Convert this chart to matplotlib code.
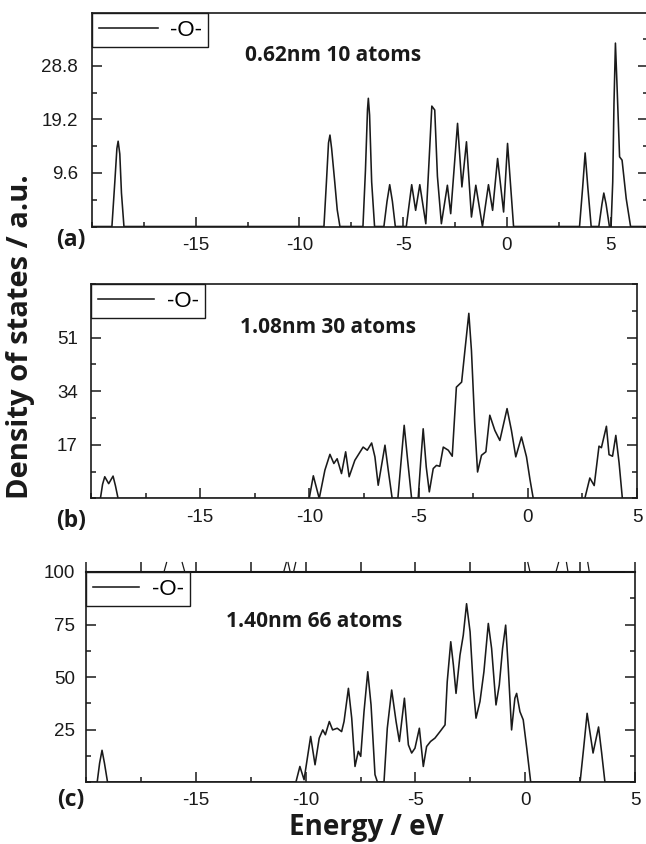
import matplotlib
matplotlib.use('Agg')
import matplotlib.pyplot as plt
from matplotlib.ticker import MultipleLocator, FixedLocator, NullFormatter

# ---- data (energy in eV, DOS in a.u.) ----
energy_a = [-20, -19.04, -18.90, -18.80, -18.74, -18.66, -18.58, -18.46,
            -8.82, -8.70, -8.60, -8.53, -8.45, -8.30, -8.18, -8.05,
            -6.94, -6.82, -6.72, -6.68, -6.62, -6.52, -6.38,
            -5.93, -5.78, -5.65, -5.52, -5.38,
            -4.85, -4.59, -4.40, -4.20, -3.91, -3.75, -3.62, -3.48, -3.35, -3.16,
            -2.87, -2.71, -2.38, -2.17, -1.95, -1.71, -1.50, -1.18, -0.89, -0.69,
            -0.45, -0.16, 0.03, 0.32,
            3.50, 3.65, 3.77, 3.90, 4.06,
            4.43, 4.58, 4.67, 4.78, 4.94,
            5.02, 5.10, 5.16, 5.23, 5.30, 5.43, 5.55, 5.75, 5.96, 6.8]
dos_a = [0, 0, 8, 14, 15.3, 13, 6, 0,
         0, 8, 15, 16.4, 14, 8, 3, 0,
         0, 10, 21, 23, 20, 8, 0,
         0, 4.5, 7.5, 4.5, 0,
         0, 7.5, 2.9, 7.5, 0.5, 12, 21.6, 20.9, 9, 0.5,
         7.4, 2.3, 18.5, 7.1, 15.2, 1.7, 7.4, 0, 7.5, 2.9,
         12.2, 2.6, 14.9, 0,
         0, 7, 13.2, 7, 0,
         0, 4, 6, 4, 0,
         0, 8, 22, 32.9, 26, 12.5, 11.9, 5, 0, 0]

energy_b = [-20, -19.57, -19.47, -19.37, -19.19, -18.99, -18.88, -18.76,
            -10.01, -9.82, -9.55, -9.29, -9.06, -8.88, -8.73, -8.53, -8.34, -8.18,
            -7.92, -7.54, -7.35, -7.15, -7.00, -6.85, -6.54, -6.39, -6.21,
            -5.95, -5.80, -5.66, -5.50, -5.32,
            -5.02, -4.90, -4.79, -4.65, -4.51, -4.33, -4.18, -4.03, -3.87, -3.64,
            -3.46, -3.27, -3.03, -2.88, -2.70, -2.58, -2.43, -2.30, -2.12, -1.92,
            -1.74, -1.51, -1.28, -0.95, -0.75, -0.55, -0.29, -0.06, 0.10, 0.25,
            2.61, 2.84, 3.04, 3.26, 3.37, 3.60, 3.72, 3.88, 4.03, 4.18, 4.33, 5]
dos_b = [0, 0, 4.5, 6.9, 4.7, 7.1, 4, 0,
         0, 7.2, 0, 9.0, 14.0, 11.1, 12.6, 7.9, 14.8, 6.9,
         12.1, 16.3, 15.3, 17.6, 13.2, 4.2, 16.9, 9.0, 0,
         0, 12, 23.2, 12, 0,
         0, 12, 22.1, 10, 2.1, 9.5, 10.5, 10.2, 16.3, 15.3,
         13.4, 35.3, 36.9, 46.9, 58.7, 46.9, 23.7, 8.4, 13.7, 14.8,
         26.4, 21.6, 18.4, 28.5, 21.6, 13.2, 19.5, 13.2, 6, 0,
         0, 6.5, 4.1, 16.6, 16.1, 22.9, 13.9, 13.4, 20.0, 11.3, 0, 0]

energy_c = [-20, -19.49, -19.38, -19.27, -19.16, -19.02,
            -10.44, -10.26, -10.07, -9.77, -9.57, -9.38, -9.22, -9.10, -8.92, -8.77,
            -8.56, -8.36, -8.25, -8.05, -7.90, -7.75, -7.60, -7.49, -7.34, -7.17,
            -7.02, -6.84, -6.73,
            -6.43, -6.28, -6.08, -5.88, -5.73, -5.50, -5.32, -5.17, -5.02, -4.82,
            -4.64, -4.49, -4.31, -4.11, -3.88, -3.65, -3.55, -3.39, -3.27, -3.15,
            -2.97, -2.82, -2.67, -2.51, -2.36, -2.24, -2.06, -1.88, -1.68, -1.53,
            -1.33, -1.18, -1.03, -0.89, -0.77, -0.62, -0.47, -0.39, -0.24, -0.09,
            0.07, 0.25,
            2.50, 2.66, 2.82, 3.09, 3.34, 3.48, 3.63, 5]
dos_c = [0, 0, 9, 15.1, 9, 0,
         0, 7.4, 1.1, 21.7, 8.2, 20.9, 24.8, 22.5, 28.8, 24.8,
         25.6, 24.0, 28.8, 44.6, 30.4, 7.4, 14.6, 12.2, 33.5, 52.5,
         36.7, 3.5, 0,
         0, 25.6, 43.8, 28.8, 19.3, 39.9, 17.7, 13.8, 16.1, 25.6,
         7.4, 16.9, 19.3, 20.9, 24.0, 27.2, 47.8, 66.8, 55.7, 42.2,
         60.4, 69.9, 84.9, 71.5, 44.6, 30.4, 38.3, 52.5, 75.5, 63.6,
         36.7, 46.2, 63.6, 74.7, 54.1, 24.8, 39.9, 42.2, 33.5, 29.6,
         16.1, 0,
         0, 16, 32.7, 13.8, 26.2, 14, 0, 0]

# cut-off curve stubs poking above panel (c)'s top edge (energy at foot / tip)
stub_foot = [-16.45, -15.50, -11.00, -10.70, -10.55, 0.22, 1.40, 1.95, 2.92]
stub_tip = [-16.33, -15.62, -10.88, -10.80, -10.45, 0.12, 1.52, 1.88, 2.85]

series_label = '-O-'
cluster_labels = ['0.62nm 10 atoms', '1.08nm 30 atoms', '1.40nm 66 atoms']
panel_tags = ['(a)', '(b)', '(c)']
x_ticks = [-15, -10, -5, 0, 5]
y_ticks_a = [9.6, 19.2, 28.8]
y_ticks_b = [17, 34, 51]
y_ticks_c = [25, 50, 75, 100]

W, H = 646, 844
INK = '#1a1a1a'


def px_box(left, right, top, bottom):
    return [left / W, 1 - bottom / H, (right - left) / W, (bottom - top) / H]


def style(ax, yticks, yminor, ylim, xlim, ypad, leg_handle):
    ax.set_xlim(*xlim)
    ax.set_ylim(*ylim)
    ax.xaxis.set_major_locator(FixedLocator(x_ticks))
    ax.xaxis.set_minor_locator(MultipleLocator(2.5))
    ax.yaxis.set_major_locator(FixedLocator(yticks))
    ax.yaxis.set_minor_locator(MultipleLocator(yminor))
    ax.set_xticklabels([str(t) for t in x_ticks])
    ax.set_yticklabels([f'{t:g}' for t in yticks])
    for lab in ax.get_xticklabels() + ax.get_yticklabels():
        lab.set_family('Liberation Sans')
        lab.set_fontsize(13.5)
        lab.set_color(INK)
    ax.tick_params(which='both', direction='in', right=True, top=False,
                   width=1.1, color=INK)
    ax.tick_params(which='major', length=7.2)
    ax.tick_params(which='minor', length=3.6)
    ax.tick_params(axis='y', which='both', pad=ypad)
    ax.tick_params(axis='x', which='both', pad=7.5)
    for sp in ax.spines.values():
        sp.set_linewidth(1.2)
        sp.set_color(INK)
    leg = ax.legend([series_label], loc='upper left', bbox_to_anchor=(0, 1),
                    borderaxespad=0, fancybox=False, framealpha=1,
                    edgecolor=INK, handlelength=leg_handle, handletextpad=0.55,
                    borderpad=0.3, prop={'family': 'Liberation Sans', 'size': 16})
    leg.get_frame().set_linewidth(1.0)


fig = plt.figure(figsize=(W / 100, H / 100), dpi=100)

ax_a = fig.add_axes(px_box(92, 648, 13, 226.5))
ax_b = fig.add_axes(px_box(91, 637, 284, 498.5))
ax_c = fig.add_axes(px_box(86, 635, 572, 782))

ax_a.plot(energy_a, dos_a, color=INK, lw=1.15)
ax_b.plot(energy_b, dos_b, color=INK, lw=1.15)
ax_c.plot(energy_c, dos_c, color=INK, lw=1.15)

style(ax_a, y_ticks_a, 4.8, (0, 38.3), (-20, 6.8), 10, 2.65)
style(ax_b, y_ticks_b, 8.5, (0, 68), (-20, 5), 9.5, 2.55)
style(ax_c, y_ticks_c, 12.5, (0, 100), (-20, 5), 8, 2.1)

# panel (c) carries outward ticks along its top edge
top = ax_c.secondary_xaxis('top')
top.xaxis.set_major_locator(FixedLocator(x_ticks))
top.xaxis.set_minor_locator(MultipleLocator(2.5))
top.xaxis.set_major_formatter(NullFormatter())
top.tick_params(which='both', direction='out', length=7, width=1.1, color=INK)
top.spines['top'].set_linewidth(1.5)

for e0, e1 in zip(stub_foot, stub_tip):
    ax_c.plot([e0, e1], [100, 104.5], color=INK, lw=0.9, clip_on=False)

text_kw = dict(family='Open Sans', weight='bold', fontsize=15, color=INK,
               ha='left', va='center')
ax_a.text(0.275, 0.803, cluster_labels[0], transform=ax_a.transAxes, **text_kw)
ax_b.text(0.273, 0.795, cluster_labels[1], transform=ax_b.transAxes, **text_kw)
ax_c.text(0.2545, 0.762, cluster_labels[2], transform=ax_c.transAxes, **text_kw)

for tag, ypx in zip(panel_tags, [240, 521, 800]):
    fig.text(71 / W, 1 - ypx / H, tag, family='Open Sans', weight='bold',
             fontsize=16.5, color=INK, ha='center', va='center')

fig.text(21 / W, 1 - 337 / H, 'Density of states / a.u.', rotation=90,
         family='Open Sans', weight='bold', fontsize=21, color=INK,
         ha='center', va='center')
fig.text(366 / W, 1 - 827 / H, 'Energy / eV', family='Open Sans',
         weight='bold', fontsize=20, color=INK, ha='center', va='center')

fig.savefig('out.png', dpi=100)
